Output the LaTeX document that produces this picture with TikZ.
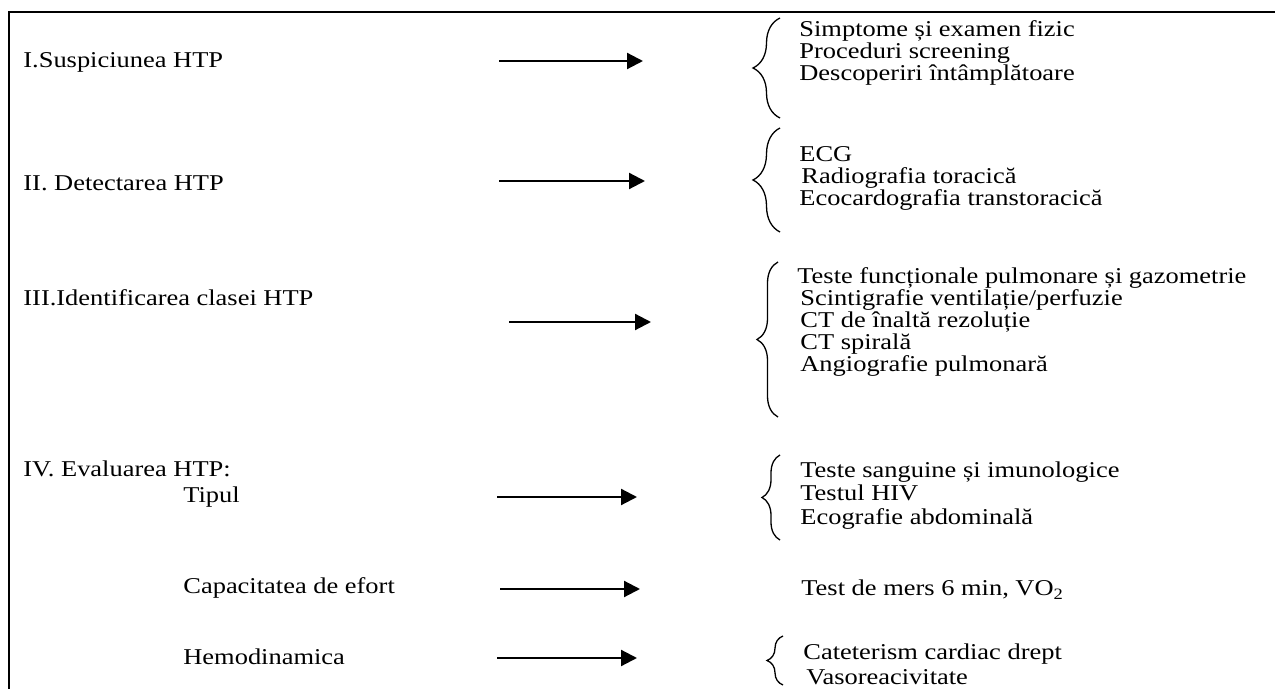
\documentclass[tikz,border=0pt]{standalone}
\usepackage{fontspec}
\setmainfont{Liberation Serif}[FakeStretch=1.17]
\usetikzlibrary{arrows.meta,decorations.pathreplacing}

\begin{document}
\begin{tikzpicture}[x=0.5pt, y=-0.5pt,
    every node/.style={font=\fontsize{11.3}{13}\selectfont, inner sep=0pt, anchor=base west},
    pointer/.style={line width=1.1pt, -{Triangle[length=8pt, width=8pt]}},
    curly/.style={line width=0.65pt, decorate, decoration={brace, amplitude=#1}},
    curly/.default=13pt]
  \useasboundingbox (0,0) rectangle (1275,689);
  % frame
  \draw[line width=1.2pt] (9,689) -- (9,12) -- (1275,12);

  % stages on the left
  \node (stage1) at (23,68) {I.Suspiciunea HTP};
  \node (stage2) at (23,191) {II. Detectarea HTP};
  \node (stage3) at (23,306) {III.Identificarea clasei HTP};
  \node (stage4) at (23,477) {IV. Evaluarea HTP:};
  \node (type) at (183,503) {Tipul};
  \node (effort) at (183,594) {Capacitatea de efort};
  \node (hemo) at (183,664) {Hemodinamica};

  % arrows
  \foreach \n/\xa/\xb/\yy in {1/499/643/61, 2/499/645/181, 3/509/651/322,
                              4/497/637/497, 5/500/640/589, 6/497/637/658}{
    \coordinate (tail\n) at (\xa,\yy);
    \coordinate (tip\n) at (\xb,\yy);
    \draw[pointer] (tail\n) -- (tip\n);
  }

  % investigations on the right
  \foreach \t/\dx [count=\i from 0] in {Simptome și examen fizic/0,
      Proceduri screening/0, Descoperiri întâmplătoare/0}
    \node (susp\i) at (799+\dx,{37+22*\i}) {\t};
  \foreach \t/\dx [count=\i from 0] in {ECG/0, Radiografia toracică/2,
      Ecocardografia transtoracică/0}
    \node (detect\i) at (799+\dx,{162+22*\i}) {\t};
  \foreach \t/\dx [count=\i from 0] in {Teste funcționale pulmonare și gazometrie/0,
      {Scintigrafie ventilație/perfuzie}/3, CT de înaltă rezoluție/3,
      CT spirală/3, Angiografie pulmonară/3}
    \node (class\i) at (797+\dx,{284+22*\i}) {\t};
  \foreach \t/\dx [count=\i from 0] in {Teste sanguine și imunologice/0,
      Testul HIV/0, Ecografie abdominală/0}
    \node (kind\i) at (800+\dx,{478+23*\i}) {\t};
  \node (walk) at (801,596) {Test de mers 6 min, VO\textsubscript{2}};
  \node (cath0) at (803,659) {Cateterism cardiac drept};
  \node (cath1) at (806,684) {Vasoreacivitate};

  % braces
  \foreach \n/\xx/\ya/\yb/\amp in {1/780/118/18/13.5pt, 2/780/232/128/13.5pt,
      3/778/417/262/10.5pt, 4/780/540/455/9pt, 5/783/685/636/8pt}{
    \coordinate (low\n) at (\xx,\ya);
    \coordinate (high\n) at (\xx,\yb);
    \draw[curly=\amp] (low\n) -- (high\n);
  }
\end{tikzpicture}
\end{document}
